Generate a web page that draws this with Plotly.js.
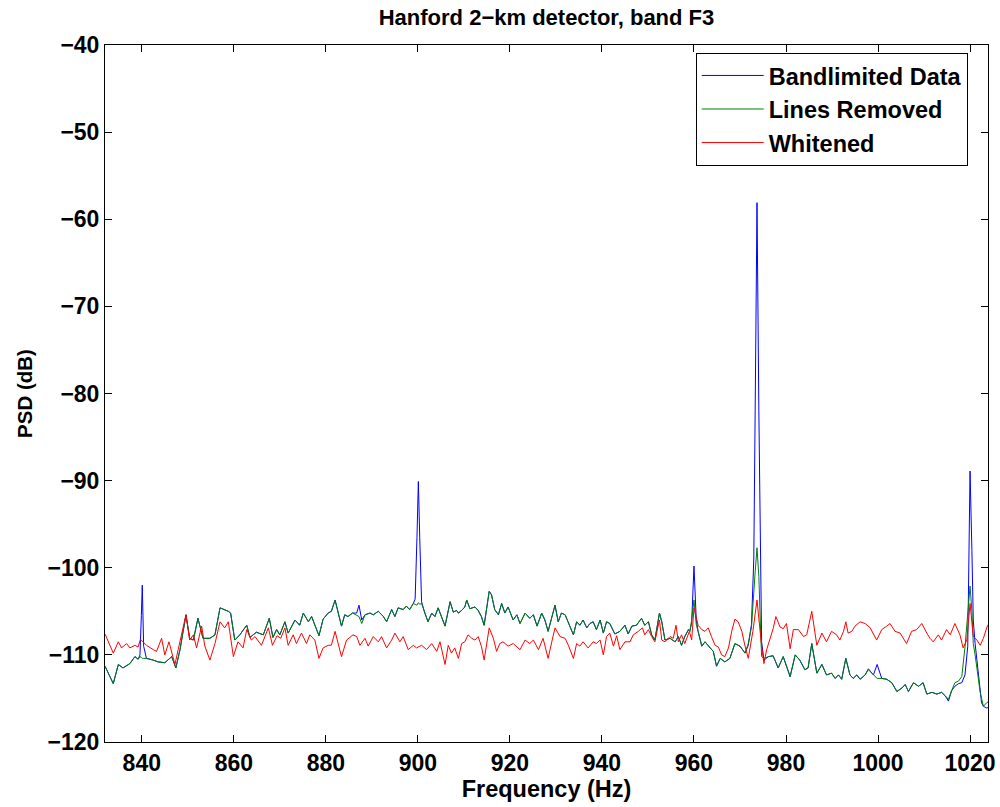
<!DOCTYPE html>
<html><head><meta charset="utf-8">
<script src="https://cdn.plot.ly/plotly-3.0.1.min.js"></script>
<style>body{margin:0;background:#fff}#chart{width:1000px;height:807px}</style>
</head><body><div id="chart"></div>
<script>
// Shared frequency grid (Hz) for the bandlimited data and the line-removed data
const freq = [
 832.0,833.8,834.9,835.9,837.4,838.5,839.2,839.6,839.9,840.1,
 840.4,841.0,842.5,843.5,845.0,846.5,847.4,848.3,849.6,850.4,
 851.2,852.2,853.3,854.8,855.9,857.0,858.8,859.3,860.2,861.3,
 862.8,863.5,864.9,866.4,867.7,868.5,869.3,870.0,871.1,871.8,
 873.3,874.3,875.1,876.2,876.9,877.6,878.5,879.4,880.5,881.2,
 882.0,882.7,883.4,884.1,884.8,885.8,886.7,887.2,887.8,888.5,
 889.6,890.3,891.4,892.5,893.2,894.3,895.0,895.7,896.8,897.5,
 898.2,899.0,899.4,899.8,900.1,900.4,900.8,901.5,902.2,903.0,
 903.7,904.4,905.9,907.0,907.7,908.4,908.8,909.5,910.2,910.6,
 911.3,912.4,913.1,913.8,914.4,915.5,916.0,916.7,917.5,918.2,
 918.9,919.6,920.7,921.5,922.2,923.3,924.3,925.1,925.9,926.9,
 927.6,928.3,929.8,930.5,931.2,932.0,933.0,933.8,934.5,935.2,
 935.9,936.7,937.4,938.1,938.8,939.6,940.3,941.0,941.7,942.8,
 943.9,945.0,945.7,946.5,947.5,948.6,949.3,950.1,950.8,951.5,
 952.5,953.0,953.7,954.8,955.9,956.6,957.3,958.0,958.8,959.1,
 959.5,960.0,960.5,960.9,961.7,962.4,963.5,964.2,964.9,965.7,
 966.7,967.8,968.9,970.0,971.1,971.8,972.5,973.0,973.3,973.7,
 974.1,974.4,974.7,975.2,976.2,977.2,978.3,979.4,980.9,982.0,
 983.0,984.1,984.8,985.6,986.7,987.8,988.8,989.9,990.7,991.4,
 992.1,993.0,993.9,994.6,995.4,996.1,997.2,997.9,999.0,999.8,
 1000.8,1001.9,1003.0,1004.1,1005.2,1005.9,1006.6,1007.7,1008.8,1009.8,
 1010.6,1011.7,1012.8,1013.8,1014.6,1015.3,1016.0,1016.7,1017.5,1018.2,
 1018.9,1019.5,1020.0,1020.4,1020.7,1021.1,1021.5,1021.9,1022.2,1022.5,
 1022.9,1023.6,1024.2
];
const psdBandlimited = [
 -111.3,-113.3,-111.1,-111.5,-111.0,-110.2,-110.5,-110.0,-105.5,-102.0,
 -109.0,-110.4,-110.6,-110.8,-110.9,-110.2,-111.5,-109.4,-105.4,-108.1,
 -108.3,-105.8,-108.1,-108.1,-107.7,-104.6,-105.0,-105.2,-108.3,-107.7,
 -106.6,-108.0,-107.4,-107.7,-105.8,-108.0,-107.1,-107.7,-106.2,-107.5,
 -106.0,-106.6,-105.2,-106.2,-105.6,-106.6,-107.8,-105.9,-105.2,-105.0,
 -103.7,-105.2,-106.7,-105.4,-105.6,-105.2,-105.2,-104.3,-106.0,-105.4,
 -105.2,-105.4,-105.0,-105.6,-106.2,-104.8,-105.6,-104.6,-104.8,-104.4,
 -104.8,-104.1,-103.6,-96.5,-90.1,-96.5,-103.9,-105.2,-106.2,-105.2,
 -105.6,-104.6,-106.7,-103.9,-105.1,-104.9,-105.2,-104.9,-104.5,-103.7,
 -104.7,-104.5,-104.9,-105.6,-106.6,-102.7,-103.1,-104.8,-105.4,-104.1,
 -105.2,-104.5,-106.0,-105.4,-106.4,-105.2,-105.8,-105.4,-106.7,-105.2,
 -106.0,-107.3,-104.3,-106.2,-105.2,-105.4,-106.7,-107.7,-106.2,-106.6,
 -106.0,-106.9,-106.4,-106.2,-107.1,-106.0,-107.5,-106.2,-106.4,-107.6,
 -107.3,-106.6,-107.6,-106.7,-106.6,-105.8,-106.6,-106.2,-107.7,-108.3,
 -105.2,-106.2,-108.3,-108.1,-108.5,-107.9,-108.9,-107.9,-107.1,-107.3,
 -106.3,-99.8,-106.0,-107.3,-109.0,-108.5,-109.2,-109.6,-111.3,-110.4,
 -110.8,-110.4,-108.7,-109.0,-109.8,-108.9,-106.5,-99.0,-82.0,-58.1,
 -82.0,-100.0,-108.5,-110.6,-110.2,-110.1,-111.5,-110.2,-112.5,-110.0,
 -110.6,-111.7,-111.5,-108.7,-112.1,-111.1,-112.3,-112.1,-112.7,-112.3,
 -112.8,-110.4,-112.3,-112.7,-112.3,-112.8,-112.3,-111.6,-112.3,-111.1,
 -112.7,-112.8,-113.2,-114.2,-113.8,-113.4,-114.2,-113.2,-113.6,-113.2,
 -114.5,-114.3,-114.5,-114.3,-114.7,-115.3,-114.1,-113.6,-113.3,-113.2,
 -112.3,-109.0,-88.9,-98.0,-106.0,-108.7,-110.8,-112.5,-114.5,-115.5,
 -115.9,-116.1,-116.0
];
const psdLinesRemoved = [
 -111.3,-113.3,-111.1,-111.5,-111.0,-110.2,-110.5,-110.2,-110.3,-110.4,
 -110.4,-110.4,-110.6,-110.8,-110.9,-110.2,-111.5,-109.4,-105.4,-108.1,
 -108.3,-105.8,-108.1,-108.1,-107.7,-104.6,-105.0,-105.2,-108.3,-107.7,
 -106.6,-108.0,-107.4,-107.7,-105.8,-108.0,-107.1,-107.7,-106.2,-107.5,
 -106.0,-106.6,-105.2,-106.2,-105.6,-106.6,-107.8,-105.9,-105.2,-105.0,
 -103.7,-105.2,-106.7,-105.4,-105.6,-105.2,-105.4,-105.6,-106.4,-105.4,
 -105.2,-105.4,-105.0,-105.6,-106.2,-104.8,-105.6,-104.6,-104.8,-104.4,
 -104.8,-104.1,-104.2,-104.3,-104.0,-104.2,-104.1,-105.2,-106.2,-105.2,
 -105.6,-104.6,-106.7,-103.9,-105.1,-104.9,-105.2,-104.9,-104.5,-103.7,
 -104.7,-104.5,-104.9,-105.6,-106.6,-102.7,-103.1,-104.8,-105.4,-104.1,
 -105.2,-104.5,-106.0,-105.4,-106.4,-105.2,-105.8,-105.4,-106.7,-105.2,
 -106.0,-107.3,-104.3,-106.2,-105.2,-105.4,-106.7,-107.7,-106.2,-106.6,
 -106.0,-106.9,-106.4,-106.2,-107.1,-106.0,-107.5,-106.2,-106.4,-107.6,
 -107.3,-106.6,-107.6,-106.7,-106.6,-105.8,-106.6,-106.2,-107.7,-108.3,
 -105.2,-106.2,-108.3,-108.1,-108.5,-107.9,-108.9,-107.9,-107.1,-107.3,
 -106.0,-103.7,-106.5,-107.3,-109.0,-108.5,-109.2,-109.6,-111.3,-110.4,
 -110.8,-110.4,-108.7,-109.0,-109.8,-108.7,-106.8,-103.5,-100.5,-97.7,
 -101.0,-106.0,-110.2,-110.4,-110.2,-110.1,-111.5,-110.2,-112.5,-110.0,
 -110.6,-111.7,-111.5,-108.7,-112.1,-111.1,-112.3,-112.1,-112.7,-112.3,
 -112.8,-110.4,-112.3,-112.7,-112.3,-112.8,-112.3,-111.7,-112.3,-112.7,
 -112.7,-112.8,-113.2,-114.2,-113.8,-113.4,-114.2,-113.2,-113.6,-113.2,
 -114.5,-114.3,-114.5,-114.3,-114.7,-115.1,-114.1,-113.2,-113.0,-112.5,
 -109.1,-105.0,-102.1,-105.0,-108.7,-110.0,-111.7,-113.0,-114.3,-115.0,
 -115.9,-115.5,-115.3
];
// Whitened series (own frequency grid, Hz)
const freqWhitened = [
 832.0,833.8,834.9,835.6,836.7,837.4,838.5,839.2,839.7,841.0,
 842.5,843.2,844.3,845.0,845.9,847.2,847.9,849.6,850.4,851.2,
 851.9,853.0,853.7,854.8,855.9,857.0,858.0,858.8,859.9,860.9,
 862.0,862.8,863.8,864.6,866.0,867.5,868.4,869.4,870.2,871.1,
 871.8,872.9,873.6,874.7,875.8,876.5,877.6,878.5,879.4,880.5,
 881.2,882.0,883.4,884.5,885.9,886.7,887.4,888.5,889.2,890.3,
 891.4,892.1,893.2,894.3,895.0,896.1,896.8,897.9,899.0,899.7,
 900.8,901.9,903.0,904.1,904.8,905.9,906.6,907.3,908.0,908.8,
 909.5,910.2,910.9,911.7,912.4,913.1,913.8,914.4,915.5,916.4,
 917.1,917.8,918.5,919.6,920.7,922.2,923.3,924.3,925.1,926.2,
 927.2,928.3,929.1,929.8,930.9,932.0,932.7,933.8,934.5,935.2,
 935.9,937.0,938.1,938.8,939.6,940.3,941.0,941.7,942.5,943.2,
 943.9,945.0,946.1,946.8,947.9,948.8,949.3,950.1,950.8,951.5,
 952.5,953.0,953.7,954.8,955.5,956.1,956.6,957.3,958.0,959.0,
 959.5,960.0,960.9,961.7,962.4,963.1,963.8,964.6,965.3,966.0,
 966.7,967.5,968.2,968.9,969.6,970.4,971.1,971.8,972.8,973.7,
 974.7,975.2,975.8,976.5,977.2,977.8,978.7,979.4,980.1,980.9,
 981.6,982.7,983.8,984.5,985.6,986.7,987.8,988.8,989.9,991.0,
 991.7,992.5,993.0,993.5,994.3,995.0,996.1,997.2,998.3,999.7,
 1000.8,1001.9,1002.6,1003.7,1004.8,1006.2,1007.3,1008.4,1009.5,1010.6,
 1011.3,1012.0,1013.1,1013.8,1014.9,1015.7,1016.7,1017.8,1018.5,1019.3,
 1020.0,1020.7,1021.5,1022.2,1022.9,1023.8,1024.2
];
const psdWhitened = [
 -107.6,-109.8,-108.5,-109.2,-108.7,-109.2,-108.9,-109.1,-108.2,-108.9,
 -109.4,-109.6,-108.1,-110.0,-108.5,-111.1,-109.4,-105.4,-108.3,-107.7,
 -109.2,-106.7,-109.0,-110.6,-108.7,-106.2,-106.9,-106.2,-110.2,-108.5,
 -109.2,-107.1,-108.3,-107.9,-108.9,-106.9,-108.9,-107.8,-108.1,-106.9,
 -108.9,-107.7,-108.7,-107.5,-108.7,-107.7,-108.3,-110.4,-109.2,-108.9,
 -108.9,-107.3,-110.2,-108.3,-107.7,-107.9,-108.9,-108.1,-109.0,-107.9,
 -108.5,-107.9,-109.2,-108.3,-107.5,-108.5,-107.9,-109.4,-108.9,-109.2,
 -108.9,-109.4,-108.7,-109.6,-108.5,-111.1,-108.9,-109.8,-109.2,-110.4,
 -108.7,-108.5,-107.7,-108.1,-108.3,-107.9,-109.0,-110.6,-106.9,-108.1,
 -109.6,-108.7,-108.5,-109.0,-108.7,-109.4,-108.3,-108.7,-108.3,-109.4,
 -108.1,-110.4,-108.5,-106.9,-107.9,-108.1,-108.9,-110.4,-108.7,-109.0,
 -108.5,-109.2,-108.5,-108.7,-108.3,-110.0,-107.9,-107.5,-109.0,-107.8,
 -109.4,-108.5,-108.5,-107.7,-107.3,-106.9,-107.7,-107.1,-107.9,-108.5,
 -106.0,-108.3,-108.5,-107.9,-108.1,-106.6,-108.5,-107.7,-108.7,-107.3,
 -108.3,-104.6,-106.6,-107.1,-107.3,-106.9,-107.9,-108.9,-109.1,-110.0,
 -110.2,-109.2,-107.3,-105.9,-106.2,-107.3,-109.0,-110.4,-107.3,-103.7,
 -109.0,-111.0,-109.4,-108.3,-107.0,-105.6,-106.8,-107.0,-106.4,-109.3,
 -107.1,-107.1,-107.9,-107.7,-105.0,-108.9,-107.5,-108.5,-107.3,-107.7,
 -108.3,-107.3,-106.2,-107.5,-107.3,-106.7,-106.2,-106.4,-106.9,-108.3,
 -107.1,-106.7,-106.4,-107.3,-107.5,-108.7,-107.3,-107.1,-106.4,-107.5,
 -108.1,-108.5,-107.7,-108.3,-107.1,-107.7,-106.4,-107.7,-109.2,-108.3,
 -104.1,-107.9,-108.3,-108.9,-108.1,-106.6,-106.4
];
const seriesNames = ['Bandlimited Data', 'Lines Removed', 'Whitened'];
const seriesColors = ['#0000ff', '#008000', '#ff0000'];
const xTickVals = [840, 860, 880, 900, 920, 940, 960, 980, 1000, 1020];
const yTickVals = [-120, -110, -100, -90, -80, -70, -60, -50, -40];
const chartTitle = 'Hanford 2\u2212km detector, band F3';
const xTitle = 'Frequency (Hz)';
const yTitle = 'PSD (dB)';

const FONT = 'Liberation Sans, Arial, Helvetica, sans-serif';
const f = (size) => ({family: FONT, size: size, color: '#000', weight: 'bold'});
const traces = [
  {x: freq, y: psdBandlimited, name: seriesNames[0]},
  {x: freq, y: psdLinesRemoved, name: seriesNames[1]},
  {x: freqWhitened, y: psdWhitened, name: seriesNames[2]}
].map((t, i) => Object.assign(t, {type: 'scatter', mode: 'lines',
  line: {color: seriesColors[i], width: 1}, hoverinfo: 'skip'}));

const axisCommon = {
  ticks: 'inside', ticklen: 7, tickwidth: 1, tickcolor: '#000',
  showline: true, linecolor: '#000', linewidth: 1, mirror: 'ticks',
  showgrid: false, zeroline: false, automargin: false,
  tickfont: f(23)
};
const layout = {
  width: 1000, height: 807,
  margin: {l: 105, r: 12, t: 45, b: 65, pad: 0},
  paper_bgcolor: '#fff', plot_bgcolor: '#fff',
  font: f(22),
  title: {text: chartTitle, x: 0.5, xref: 'paper', xanchor: 'center',
          y: 1 - 17 / 807, yanchor: 'middle', font: f(22)},
  xaxis: Object.assign({}, axisCommon, {range: [832, 1023.9], tickmode: 'array', tickvals: xTickVals,
    title: {text: xTitle, standoff: 4, font: f(23.5)}}),
  yaxis: Object.assign({}, axisCommon, {range: [-120, -40], tickmode: 'array', tickvals: yTickVals,
    title: {text: yTitle, standoff: 9, font: f(20.5)}}),
  showlegend: true,
  legend: {x: 0.977, xanchor: 'right', y: 0.989, yanchor: 'top', bgcolor: '#fff',
           bordercolor: '#000', borderwidth: 1, itemwidth: 62, tracegroupgap: 0,
           font: f(23.5)}
};
Plotly.newPlot('chart', traces, layout, {staticPlot: true, displayModeBar: false});
</script>
</body></html>
